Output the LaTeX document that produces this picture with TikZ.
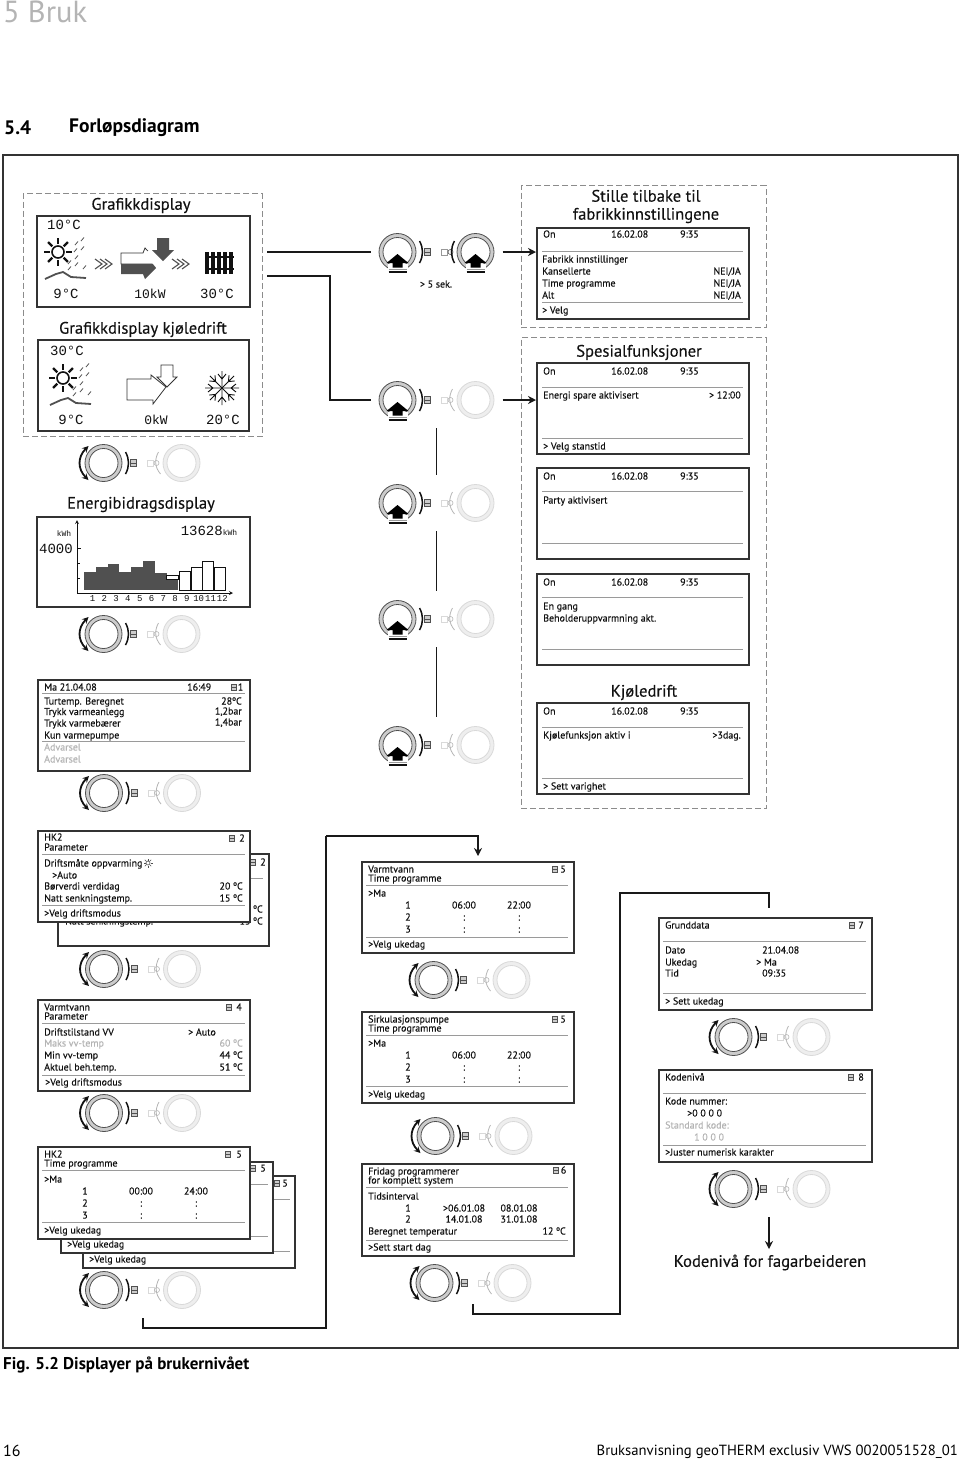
\documentclass[tikz,border=0pt]{standalone}
\usepackage{fontspec}
\setmainfont{PT Sans}
\newfontfamily\lcdfont{Liberation Mono}
\newfontfamily\screenfont[FakeBold=0.25]{PT Sans}
\usetikzlibrary{positioning,arrows.meta}
\definecolor{HBFrame}{HTML}{333333}
\definecolor{HBRule}{HTML}{9A9A9A}
\definecolor{HBDash}{HTML}{8C8C8C}
\definecolor{HBText}{HTML}{111111}
\definecolor{HBDim}{HTML}{B4B4B4}
\definecolor{HBBar}{HTML}{505050}
\definecolor{HBDial}{HTML}{505050}
\definecolor{HBRing}{HTML}{CCCCCC}
\definecolor{HBOff}{HTML}{D9D9D9}
\newcount\txtno
\newcommand{\ltxt}[4][]{\global\advance\txtno by 1 \node[lcdtext,anchor=west,#1] (t\the\txtno) at (#2,#3) {#4};}
\newcommand{\rtxt}[4][]{\global\advance\txtno by 1 \node[lcdtext,anchor=east,#1] (t\the\txtno) at (#2,#3) {#4};}
\newcommand{\ctxt}[4][]{\global\advance\txtno by 1 \node[lcdtext,anchor=center,#1] (t\the\txtno) at (#2,#3) {#4};}
\newcommand{\headtxt}[3]{\global\advance\txtno by 1 \node[headtext] (t\the\txtno) at (#1,#2) {#3};}
\newcommand{\segtxt}[4]{\global\advance\txtno by 1 \node[segtext,font=\lcdfont\fontsize{#3}{#3}\selectfont] (t\the\txtno) at (#1,#2) {#4};}
\newcommand{\lcdrule}[3]{\draw[lcdline] (#1,#3) -- (#2,#3);}
\newcommand{\menuicon}[2]{\draw[HBDial,line width=.6pt,fill=HBRing] (#1-2.5,#2-3) rectangle (#1+2.5,#2+3) (#1-2.5,#2) -- (#1+2.5,#2);}
% timer rows of the programme screens
\newcommand{\timerows}[5]{
\ctxt{#1+47}{#2}{1}
\ctxt{#1+103}{#2}{#3}
\ctxt{#1+158}{#2}{#4}
\ctxt{#1+47}{#2+12}{2}
\ctxt{#1+103}{#2+12}{:}
\ctxt{#1+158}{#2+12}{:}
\ctxt{#1+47}{#2+24}{3}
\ctxt{#1+103}{#2+24}{:}
\ctxt{#1+158}{#2+24}{:}
}
\tikzset{
lcdbox/.style={draw=HBFrame,line width=1.5pt,fill=white,minimum width=212pt,minimum height=91pt,anchor=north west,inner sep=0pt},
dashbox/.style={draw=HBDash,line width=1pt,dash pattern=on 6pt off 3pt,anchor=north west,inner sep=0pt,outer xsep=5pt},
knobbox/.style={minimum width=116pt,minimum height=40pt,inner sep=0pt,outer xsep=8pt,outer ysep=8pt},
lcdtext/.style={font=\screenfont\fontsize{10}{10}\selectfont,text=HBText,inner sep=0pt,text height=8pt,text depth=1pt},
headtext/.style={font=\screenfont\fontsize{16.6}{18}\selectfont,text=HBText,inner sep=0pt,align=center,yshift=-1.5pt},
segtext/.style={text=HBText,inner sep=0pt},
lcdline/.style={HBRule,line width=.9pt},
flowline/.style={black!90,line width=1.5pt},
flowtip/.style={-{Stealth[length=8pt,width=8pt]}},
ringon/.style={draw=HBDial,line width=.8pt},
ringoff/.style={draw=HBOff,line width=.8pt},
leftdial/.pic={
\fill[white] (-39,0) circle[radius=18.5pt];
\draw[ringon,fill=HBRing] (-39,0) circle[radius=18.5pt];
\draw[ringon,fill=white] (-39,0) circle[radius=14.5pt];
\draw[HBText,line width=1.5pt] (-17,-11) .. controls (-13,-4) and (-13,4) .. (-17,11);
\draw[HBDial,line width=.6pt,fill=HBRing] (-12,-3.5) rectangle (-6,3.5) (-12,0) -- (-6,0);
},
rightdial/.pic={
\draw[ringoff,fill=HBOff!45] (39,0) circle[radius=18.5pt];
\draw[ringoff,fill=white] (39,0) circle[radius=14.5pt];
\draw[HBOff,line width=.7pt] (5,-3) rectangle (11,3);
\draw[HBDim,line width=.6pt] (14,0) circle[radius=2.5pt];
},
leftturn/.pic={
\pic {leftdial};
\draw[stealth-stealth,HBText,line width=1.8pt] (-54,-17) .. controls (-65,-6) and (-65,6) .. (-54,17);
},
leftpush/.pic={
\pic {leftdial};
\fill[white] (-49,12) rectangle (-29,21);
\fill[black] (-39,2) -- (-28,11) -- (-34,11) -- (-34,15.5) -- (-44,15.5) -- (-44,11) -- (-50,11) -- cycle;
\draw[HBRule,line width=1.6pt] (-48,17.5) -- (-30,17.5);
\draw[HBText,line width=1.2pt] (-48,20) -- (-30,20);
},
rightoff/.pic={
\pic {rightdial};
\draw[HBDim,line width=.8pt] (16,-11) .. controls (12,-4) and (12,4) .. (18,11);
},
righton/.pic={
\fill[white] (39,0) circle[radius=18.5pt];
\draw[ringon,fill=HBRing] (39,0) circle[radius=18.5pt];
\draw[ringon,fill=white] (39,0) circle[radius=14.5pt];
\draw[HBOff!70!black,line width=.7pt] (5,-3) rectangle (11,3);
\draw[HBDial,line width=.6pt] (14,0) circle[radius=2.5pt];
\draw[HBText,line width=1.5pt] (18,-11) .. controls (14,-4) and (14,4) .. (18,11);
\fill[white] (29,12) rectangle (49,21);
\fill[black] (39,2) -- (50,11) -- (44,11) -- (44,15.5) -- (34,15.5) -- (34,11) -- (28,11) -- cycle;
\draw[HBRule,line width=1.6pt] (30,17.5) -- (48,17.5);
\draw[HBText,line width=1.2pt] (30,20) -- (48,20);
},
weather/.pic={
\draw[HBText,line width=1.6pt] (0,0) circle[radius=6pt];
\foreach \ang in {0,45,...,315} {\draw[HBText,line width=2.4pt] (\ang:8) -- (\ang:14);}
\foreach \px/\py in {17/-7,23/-11,16/0,23/-2,10/12,17/7,17/14,25/17,10/18} {\draw[HBBar,line width=.8pt] (\px,\py) -- ++(3,-3.5);}
\draw[HBBar,line width=1.8pt] (-13,27) -- (-2,22) -- (5,20) -- (13,25) -- (28,26);
},
chevrons/.pic={
\foreach \off in {0,5,10} {\draw[HBBar,line width=1.1pt] (\off,-5) -- (\off+7,0) -- (\off,5);}
}
}
\begin{document}
\begin{tikzpicture}[x=1pt,y=-1pt]
\useasboundingbox (0,0) rectangle (960,1460);
% page head and foot
\node[anchor=west,inner sep=0pt,text=HBDim,font=\fontsize{30.5}{30.5}\selectfont] (chapter) at (3,12) {5 Bruk};
\node[anchor=west,inner sep=0pt,font=\bfseries\fontsize{19.5}{19.5}\selectfont] (secno) at (4,127.5) {5.4};
\node[anchor=west,inner sep=0pt,font=\bfseries\fontsize{19.5}{19.5}\selectfont] (sectitle) at (69,127.5) {Forløpsdiagram};
\node[anchor=west,inner sep=0pt,font=\bfseries\fontsize{17}{17}\selectfont] (figcap) at (3,1365) {Fig. 5.2 Displayer på brukernivået};
\node[anchor=west,inner sep=0pt,font=\fontsize{16}{16}\selectfont] (pageno) at (3,1451) {16};
\node[anchor=east,inner sep=0pt,font=\fontsize{14.7}{14.7}\selectfont] (manual) at (958,1452) {Bruksanvisning geoTHERM exclusiv VWS 0020051528\_01};
\draw[HBFrame,line width=1.5pt] (3,155) rectangle (958,1348);

% dashed groups
\node[dashbox,minimum width=239pt,minimum height=243pt] (dgraf) at (18,193) {};
\node[dashbox,minimum width=245pt,minimum height=142pt] (dfactorygrp) at (516,185) {};
\node[dashbox,minimum width=245pt,minimum height=471pt] (dspecialgrp) at (516,337) {};

% grafikkdisplay
\headtxt{141}{204}{Grafikkdisplay}
\node[lcdbox,minimum width=213pt,minimum height=91pt] (dheat) at (36,215) {};
\pic at (58,252) {weather};
\pic at (95,264) {chevrons};
\pic at (172,264) {chevrons};
\draw[HBFrame,line width=.8pt,fill=white] (121,253) -- (143,253) -- (145,248) -- (160,264) -- (121,264) -- cycle;
\fill[HBBar] (121,264) -- (160,264) -- (145,279) -- (143,274) -- (121,274) -- cycle;
\fill[white] (144,253) -- (150,250) -- (166,264) -- (158,270) -- cycle;
\fill[HBBar] (157,238) -- (169,238) -- (169,250) -- (174,250) -- (163,261) -- (152,250) -- (157,250) -- cycle;
\foreach \colx in {207,213,219,225,231} {\draw[HBText,line width=3.4pt] (\colx,252) -- (\colx,274);}
\draw[HBText,line width=1.6pt] (205,257) -- (234,257) (205,269) -- (234,269);
\segtxt{64}{225}{14}{10°C}
\segtxt{66}{294}{14}{9°C}
\segtxt{150}{294}{13}{10kW}
\segtxt{217}{294}{14}{30°C}
\headtxt{143}{328}{Grafikkdisplay kjøledrift}
\node[lcdbox,minimum width=211pt,minimum height=91pt] (dcool) at (37,339) {};
\pic at (63,378) {weather};
\draw[HBFrame,line width=.8pt] (127,379) -- (151,379) -- (151,375) -- (166,387) -- (153,404) -- (153,400) -- (127,400) -- cycle;
\draw[HBFrame,line width=.8pt,fill=white] (161,365) -- (173,365) -- (173,377) -- (177,377) -- (167,387) -- (157,377) -- (161,377) -- cycle;
\foreach \ang in {0,45,...,315} {\draw[HBText,line width=.9pt,shift={(222,388)},rotate=\ang] (0,0) -- (17,0) (9,0) -- (14,4) (9,0) -- (14,-4);}
\segtxt{67}{351}{14}{30°C}
\segtxt{71}{420}{14}{9°C}
\segtxt{156}{420}{13}{0kW}
\segtxt{223}{420}{14}{20°C}

% factory reset
\headtxt{646}{205}{Stille tilbake til\\fabrikkinnstillingene}
\node[lcdbox] (dfactory) at (536,227) {};
\ltxt{543}{234}{On} \ltxt{611}{234}{16.02.08} \ltxt{680}{234}{9:35}
\lcdrule{542}{743}{251}
\ltxt{542}{259}{Fabrikk innstillinger}
\ltxt{542}{271}{Kansellerte} \rtxt{741}{271}{NEI/JA}
\ltxt{542}{283}{Time programme} \rtxt{741}{283}{NEI/JA}
\ltxt{542}{295}{Alt} \rtxt{741}{295}{NEI/JA}
\lcdrule{542}{743}{302}
\ltxt{542}{310}{> Velg}

% special functions
\headtxt{639}{351}{Spesialfunksjoner}
\node[lcdbox] (denergy) at (536,362) {};
\ltxt{543}{371}{On} \ltxt{611}{371}{16.02.08} \ltxt{680}{371}{9:35}
\lcdrule{542}{743}{387}
\ltxt{543}{395}{Energi spare aktivisert} \rtxt{741}{395}{> 12:00}
\lcdrule{542}{743}{438}
\ltxt{543}{446}{> Velg stanstid}
\node[lcdbox] (dparty) at (536,467) {};
\ltxt{543}{476}{On} \ltxt{611}{476}{16.02.08} \ltxt{680}{476}{9:35}
\lcdrule{542}{743}{491}
\ltxt{543}{500}{Party aktivisert}
\lcdrule{542}{743}{543}
\node[lcdbox] (donce) at (536,573) {};
\ltxt{543}{582}{On} \ltxt{611}{582}{16.02.08} \ltxt{680}{582}{9:35}
\lcdrule{542}{743}{597}
\ltxt{543}{606}{En gang}
\ltxt{543}{618}{Beholderuppvarmning akt.}
\lcdrule{542}{743}{649}
\headtxt{644}{691}{Kjøledrift}
\node[lcdbox] (dcooling) at (536,702) {};
\ltxt{543}{711}{On} \ltxt{611}{711}{16.02.08} \ltxt{680}{711}{9:35}
\lcdrule{542}{743}{727}
\ltxt{543}{735}{Kjølefunksjon aktiv i} \rtxt{741}{735}{>3dag.}
\lcdrule{542}{743}{778}
\ltxt{543}{786}{> Sett varighet}

% energy chart
\headtxt{141}{503}{Energibidragsdisplay}
\node[lcdbox,minimum width=213pt,minimum height=90pt] (dchart) at (36,516) {};
\foreach \bar/\bartop in {0/395,1/382,2/373,3/395,4/382,5/364,6/400,7/418} {\fill[HBBar] ({84+\bar*11.8},{440+\bartop/3}) rectangle ({84+(\bar+1)*11.8},590);}
\draw[HBText,line width=.9pt] (166.6,575) rectangle (178.4,579.5);
\foreach \bar/\bartop in {8/395,9/382,10/364,11/382} {\draw[HBText,line width=1pt] ({84.8+\bar*11.8},{440+\bartop/3}) rectangle ({84+(\bar+1)*11.8},590);}
\draw[-stealth,HBText,line width=.8pt] (77,593) -- (77,520);
\draw[-stealth,HBText,line width=.8pt] (77,593) -- (233,593);
\draw[HBText,line width=.8pt] (77,548) -- (81,548) (77,563) -- (80,563) (77,578) -- (80,578);
\foreach \num in {1,...,12} {\ctxt[font=\lcdfont\fontsize{9}{9}\selectfont]{{92.5+(\num-1)*11.8}}{598}{\num}}
\segtxt{209}{531}{14}{13628{\fontsize{8}{8}\selectfont kWh}}
\segtxt{64}{534}{8}{kWh}
\segtxt{56}{549}{14}{4000}

% main screen
\node[lcdbox] (dmain) at (37,679) {};
\ltxt{44}{687}{Ma 21.04.08} \ltxt{187}{687}{16:49} \menuicon{233.5}{687} \rtxt{243.5}{687}{1}
\lcdrule{42}{245}{693}
\ltxt{44}{701}{Turtemp. Beregnet} \rtxt{242}{701}{28ºC}
\ltxt{44}{711.5}{Trykk varmeanlegg} \rtxt{242}{711}{1,2bar}
\ltxt{44}{723}{Trykk varmebærer} \rtxt{242}{722}{1,4bar}
\ltxt{44}{735}{Kun varmepumpe}
\lcdrule{42}{245}{741}
\ltxt[text=HBDim]{44}{747}{Advarsel}
\ltxt[text=HBDim]{44}{759}{Advarsel}

% HK2 parameter stack
\node[lcdbox,minimum width=211pt,minimum height=92pt] (dhkback) at (57,853) {};
\menuicon{253}{862} \rtxt{266}{862}{2}
\lcdrule{250}{263}{878}
\rtxt{263}{909}{20 ºC} \rtxt{263}{921}{15 ºC}
\ltxt{65}{921}{Natt senkningstemp.}
\node[lcdbox] (dhkpar) at (37,830) {};
\ltxt{44}{837}{HK2} \ltxt{44}{847}{Parameter} \menuicon{232}{838} \rtxt{245}{838}{2}
\lcdrule{42}{245}{854}
\ltxt{44}{863}{Driftsmåte oppvarming}
\draw[HBDial,line width=.6pt] (148,863) circle[radius=2pt];
\foreach \ang in {0,45,...,315} {\draw[HBDial,line width=.6pt,shift={(148,863)}] (\ang:2.5) -- (\ang:4.5);}
\ltxt{52}{875}{>Auto}
\ltxt{44}{886}{Børverdi verdidag} \rtxt{243}{886}{20 ºC}
\ltxt{44}{898}{Natt senkningstemp.} \rtxt{243}{898}{15 ºC}
\lcdrule{42}{245}{905}
\ltxt{44}{913}{>Velg driftsmodus}

% hot water parameter
\node[lcdbox] (dvvpar) at (37,999) {};
\ltxt{44}{1007}{Varmtvann} \ltxt{44}{1016}{Parameter} \menuicon{229}{1007} \rtxt{242}{1007}{4}
\lcdrule{42}{245}{1023}
\ltxt{44}{1032}{Driftstilstand VV} \ltxt{188}{1032}{> Auto}
\ltxt[text=HBDim]{44}{1043}{Maks vv-temp} \rtxt[text=HBDim]{243}{1043}{60 ºC}
\ltxt{44}{1055}{Min vv-temp} \rtxt{243}{1055}{44 ºC}
\ltxt{44}{1067}{Aktuel beh.temp.} \rtxt{243}{1067}{51 ºC}
\lcdrule{42}{245}{1075}
\ltxt{45}{1082}{>Velg driftsmodus}

% HK2 programme stack
\node[lcdbox,minimum height=92pt] (dprogc) at (82,1175) {};
\menuicon{277}{1183} \rtxt{288}{1183}{5}
\lcdrule{272}{290}{1199}
\lcdrule{272}{290}{1251}
\ltxt{89}{1259}{>Velg ukedag}
\node[lcdbox,minimum height=91pt] (dprogb) at (60,1161) {};
\menuicon{253}{1168} \rtxt{266}{1168}{5}
\lcdrule{249}{268}{1184}
\lcdrule{249}{268}{1236}
\ltxt{67}{1244}{>Velg ukedag}
\node[lcdbox,minimum height=92pt] (dproga) at (37,1146) {};
\ltxt{44}{1154}{HK2} \ltxt{44}{1163}{Time programme} \menuicon{228}{1154} \rtxt{242}{1154}{5}
\lcdrule{42}{245}{1170}
\ltxt{44}{1179}{>Ma}
\timerows{38}{1191}{00:00}{24:00}{}
\lcdrule{42}{245}{1222}
\ltxt{44}{1230}{>Velg ukedag}

% middle column
\node[lcdbox] (dvvprog) at (361,861) {};
\ltxt{368}{869}{Varmtvann} \ltxt{368}{878}{Time programme} \menuicon{555}{869} \rtxt{566}{869}{5}
\lcdrule{366}{568}{885}
\ltxt{368}{893}{>Ma}
\timerows{361}{905}{06:00}{22:00}{}
\lcdrule{366}{568}{937}
\ltxt{368}{944}{>Velg ukedag}
\node[lcdbox] (dsirk) at (361,1011) {};
\ltxt{368}{1019}{Sirkulasjonspumpe} \ltxt{368}{1028}{Time programme} \menuicon{555}{1019} \rtxt{566}{1019}{5}
\lcdrule{366}{568}{1035}
\ltxt{368}{1043}{>Ma}
\timerows{361}{1055}{06:00}{22:00}{}
\lcdrule{366}{568}{1086}
\ltxt{368}{1094}{>Velg ukedag}
\node[lcdbox,minimum height=92pt] (dfridag) at (361,1163) {};
\ltxt{368}{1171}{Fridag programmerer} \ltxt{368}{1180}{for komplett system} \menuicon{556}{1170} \rtxt{566.5}{1170}{6}
\lcdrule{366}{568}{1187}
\ltxt{368}{1196}{Tidsinterval}
\ctxt{408}{1208}{1} \ctxt{464}{1208}{>06.01.08} \ctxt{519}{1208}{08.01.08}
\ctxt{408}{1219}{2} \ctxt{464}{1219}{14.01.08} \ctxt{519}{1219}{31.01.08}
\ltxt{368}{1231}{Beregnet temperatur} \rtxt{566}{1231}{12 ºC}
\lcdrule{366}{568}{1240}
\ltxt{368}{1247}{>Sett start dag}

% right column
\node[lcdbox,minimum width=213pt,minimum height=92pt] (dgrund) at (658,917) {};
\ltxt{665}{925}{Grunddata} \menuicon{852}{925} \rtxt{864}{925}{7}
\lcdrule{663}{866}{941}
\ltxt{665}{950}{Dato} \ltxt{762}{950}{21.04.08}
\ltxt{665}{962}{Ukedag} \ltxt{756}{962}{> Ma}
\ltxt{665}{973}{Tid} \ltxt{762}{973}{09:35}
\lcdrule{663}{866}{993}
\ltxt{665}{1001}{> Sett ukedag}
\node[lcdbox,minimum width=213pt,minimum height=92pt] (dcode) at (658,1069) {};
\ltxt{665}{1077}{Kodenivå} \menuicon{851}{1077} \rtxt{864}{1077}{8}
\lcdrule{663}{866}{1093}
\ltxt{665}{1101}{Kode nummer:}
\ltxt{687}{1113}{>0 0 0 0}
\ltxt[text=HBDim]{665}{1125}{Standard kode:}
\ltxt[text=HBDim]{694}{1137}{1 0 0 0}
\lcdrule{663}{866}{1145}
\ltxt{665}{1152}{>Juster numerisk karakter}
\headtxt{770}{1261}{Kodenivå for fagarbeideren}

% dials
\foreach \kname/\kx/\ky in {kfive/436.5/252} {\node[knobbox] (\kname) at (\kx,\ky) {}; \pic at (\kname) {leftpush}; \pic at (\kname) {righton};}
\foreach \kname/\ky in {kspecial/400,kparty/503,konce/619,kcoolmode/745} {\node[knobbox] (\kname) at (436.5,\ky) {}; \pic at (\kname) {leftpush}; \pic at (\kname) {rightoff};}
\foreach \kname/\kx/\ky in {kgraf/142.5/463,kchart/142.5/634,kmain/143/793,khk/143/969,kvv/143/1113,kprog/143/1290,ktime/472.5/980,ksirk/474.5/1136,kfri/473.5/1283,kgrund/772.5/1037,kcode/772.5/1189} {\node[knobbox] (\kname) at (\kx,\ky) {}; \pic at (\kname) {leftturn}; \pic at (\kname) {rightoff};}
\global\advance\txtno by 1 \node[lcdtext,anchor=center] (fivesec) at (436,284) {> 5 sek.};

% connectors
\coordinate (tospecial) at (330,276);
\coordinate (progdown) at (326,1328);
\coordinate (progup) at (326,836);
\coordinate (progend) at (478,856);
\coordinate (fristart) at (473,1304);
\coordinate (fridown) at (620,1314);
\coordinate (friup) at (620,893);
\coordinate (friend) at (769,908);
\coordinate (codestart) at (769,1217);
\coordinate (codeend) at (769,1249);
\draw[flowline] (dgraf.east |- kfive.west) -- (kfive.west);
\draw[flowline,flowtip] (kfive.east) -- (dfactory.west |- kfive.east);
\draw[flowline] (dgraf.east |- tospecial) -- (tospecial) |- (kspecial.west);
\draw[flowline,flowtip] (kspecial.east) -- (denergy.west |- kspecial.east);
\draw[flowline] (kspecial.south) -- (kparty.north);
\draw[flowline] (kparty.south) -- (konce.north);
\draw[flowline] (konce.south) -- (kcoolmode.north);
\draw[flowline,flowtip] (progup) -| (progend);
\draw[flowline] (kprog.south) |- (progdown) -- (progup);
\draw[flowline] (fristart) |- (fridown) -- (friup) -| (friend);
\draw[flowline,flowtip] (codestart) -- (codeend);
\end{tikzpicture}
\end{document}
